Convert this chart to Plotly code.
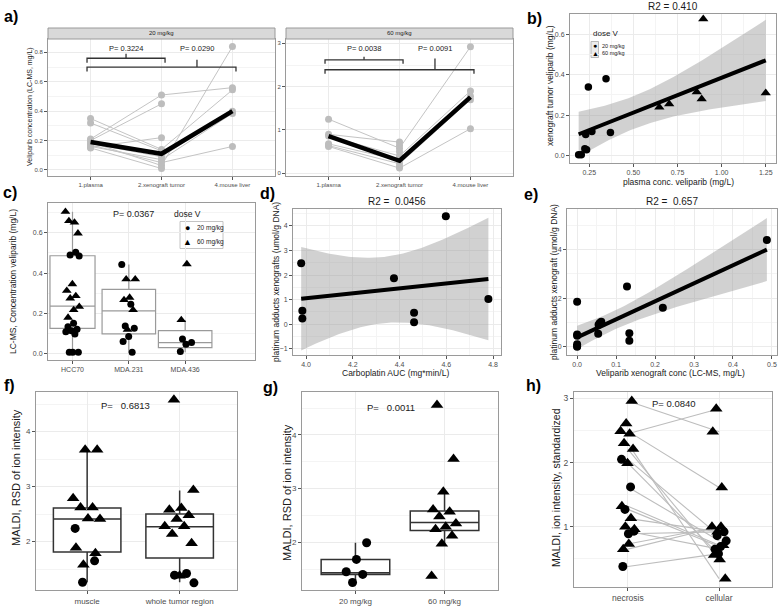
import numpy as np
import plotly.graph_objects as go

W, H = 778, 606
FONT = "Liberation Sans, Arial, sans-serif"

# ---------------- data ----------------
a_categories = ["1.plasma", "2.xenograft tumor", "4.mouse liver"]
# panel a, 20 mg/kg, one entry per mouse
a20_plasma = [0.21, 0.20, 0.32, 0.19, 0.17, 0.18, 0.16, 0.35, 0.15, 0.155]
a20_tumor = [0.51, 0.45, 0.13, 0.03, 0.05, 0.09, 0.07, 0.14, 0.01, 0.22]
a20_liver = [0.56, None, None, 0.84, 0.16, 0.40, 0.385, 0.545, None, None]
a20_mean = [0.19, 0.11, 0.40]
# panel a, 60 mg/kg
a60_plasma = [1.25, 0.90, 0.86, 0.68, 0.64, 0.62, None, None, None]
a60_tumor = [0.58, 0.72, 0.40, 0.30, 0.22, 0.12, 0.65, 0.50, 0.15]
a60_liver = [2.92, None, 1.90, 1.78, 1.70, 1.03, None, None, None]
a60_mean = [0.86, 0.29, 1.76]
a_facets = ["20 mg/kg", "60 mg/kg"]
# brackets: (from, to, y, tick x, tick top, label y, label)
a20_brackets = [(0, 1, 0.76, 0.5, 0.79, 0.825, "P= 0.3224"),
                (0, 2, 0.70, 1.5, 0.75, 0.825, "P= 0.0290")]
a60_brackets = [(0, 1, 2.62, 0.5, 2.69, 2.89, "P= 0.0038"),
                (0, 2, 2.39, 1.5, 2.65, 2.89, "P= 0.0091")]

# panel b
b_plasma20 = [0.19, 0.205, 0.225, 0.235, 0.23, 0.265, 0.245, 0.345, 0.37]
b_tumor20 = [0.005, 0.005, 0.035, 0.03, 0.105, 0.12, 0.34, 0.38, 0.115]
b_plasma60 = [0.647, 0.703, 0.859, 0.887, 0.896, 1.25]
b_tumor60 = [0.24, 0.255, 0.315, 0.28, 0.675, 0.31]

# panel c
c_categories = ["HCC70", "MDA.231", "MDA.436"]
c_vals60 = [[0.704, 0.651, 0.658, 0.597, 0.346, 0.313, 0.287, 0.275, 0.234, 0.218, 0.18],
            [0.37, 0.37, 0.279, 0.267, 0.218, 0.12],
            [0.445, 0.168]]
c_vals20 = [[0.503, 0.49, 0.485, 0.152, 0.135, 0.122, 0.115, 0.11, 0.099, 0.008, 0.008, 0.008],
            [0.443, 0.246, 0.138, 0.127, 0.086, 0.061, 0.008],
            [0.074, 0.056, 0.048, 0.012]]
c_q1 = [0.127, 0.099, 0.031]
c_med = [0.237, 0.213, 0.056]
c_q3 = [0.486, 0.320, 0.115]
c_lo = [0.008, 0.008, 0.008]
c_hi = [0.704, 0.443, 0.168]

# panel d
d_auc = [3.979, 3.984, 3.984, 4.376, 4.462, 4.462, 4.598, 4.78]
d_pt = [2.48, 0.55, 0.24, 1.87, 0.47, 0.08, 4.40, 1.03]

# panel e
e_vel = [0, 0, 0, 0, 0, 0, 0.054, 0.055, 0.058, 0.062, 0.128, 0.134, 0.134, 0.22, 0.487]
e_pt = [1.85, 0.5, 0.45, 0.1, 0.03, 0.0, 0.53, 0.9, 0.97, 1.03, 2.47, 0.55, 0.25, 1.6, 4.39]

# panel f
f_categories = ["muscle", "whole tumor region"]
f_vals60 = [[3.67, 3.67, 2.79, 2.62, 2.62, 2.41, 2.42, 1.89, 1.79, 1.58],
            [4.58, 2.94, 2.61, 2.58, 2.48, 2.41, 2.28, 2.28, 2.14, 1.97, 1.38]]
f_vals20 = [[2.24, 1.65, 1.26], [1.42, 1.39, 1.25]]
f_q1 = [1.81, 1.70]
f_med = [2.41, 2.27]
f_q3 = [2.61, 2.50]
f_lo = [1.26, 1.26]
f_hi = [3.67, 2.93]

# panel g
g_categories = ["20 mg/kg", "60 mg/kg"]
g_vals20 = [1.99, 1.68, 1.45, 1.40, 1.25]
g_vals60 = [4.56, 3.55, 2.94, 2.61, 2.57, 2.48, 2.35, 2.29, 2.24, 2.12, 1.97, 1.37]
g_q1 = [1.40, 2.22]
g_med = [1.43, 2.37]
g_q3 = [1.68, 2.58]
g_lo = [1.25, 1.97]
g_hi = [1.99, 2.91]

# panel h (one entry per mouse)
h_categories = ["necrosis", "cellular"]
h_dose = ["60"] * 13 + ["20"] * 6
h_nec = [2.96, 2.61, 2.49, 2.45, 2.30, 2.21, 1.99, 1.32, 1.13, 1.00, 0.96, 0.73, 0.65,
         2.05, 1.62, 1.27, 0.93, 0.89, 0.38]
h_cel = [2.48, None, 1.61, 2.84, 0.19, 0.49, 0.56, 0.71, 0.92, None, None, 1.00, 1.00,
         0.86, 0.78, 0.69, 0.65, 0.92, 0.58]

legend_title = "dose V"
legend_labels = ["20 mg/kg", "60 mg/kg"]

T975 = {6: 2.447, 12: 2.179, 13: 2.160, 14: 2.145}

# ---------------- helpers ----------------
def px_x(p):
    return p / W


def px_y(p):
    return 1 - p / H


def jitter(n, w, s=0.0):
    phi = 0.6180339887
    return np.array([w * ((((i + 1) * phi + s) % 1.0) * 2 - 1) for i in range(n)])


def lm_band(x, y, n_grid=80):
    x = np.asarray(x, float)
    y = np.asarray(y, float)
    n = len(x)
    mx = x.mean()
    sxx = ((x - mx) ** 2).sum()
    b1 = ((x - mx) * (y - y.mean())).sum() / sxx
    b0 = y.mean() - b1 * mx
    res = y - (b0 + b1 * x)
    s = np.sqrt((res ** 2).sum() / (n - 2))
    t = T975.get(n - 2, 2.1)
    xs = np.linspace(x.min(), x.max(), n_grid)
    fit = b0 + b1 * xs
    se = s * np.sqrt(1.0 / n + (xs - mx) ** 2 / sxx)
    return xs, fit, fit - t * se, fit + t * se


SYM = {"20": "circle", "60": "triangle-up"}
GLYPH = {"20": "\u25cf", "60": "\u25b2"}

fig = go.Figure()
layout = {}
annotations = []
shapes = []

# panel boxes in pixels: (x0, x1), (y0, y1)
PANELS = {
    1: ((48, 275), (39, 176)),
    2: ((286, 513), (39, 176)),
    3: ((570, 776), (14, 163)),
    4: ((48, 255), (203, 360)),
    5: ((293, 501), (209, 355)),
    6: ((567, 777), (209, 355)),
    7: ((36, 237), (392, 590)),
    8: ((302, 498), (392, 590)),
    9: ((574, 772), (392, 587)),
}


def suffix(k):
    return str(k) if k > 1 else ""


def base_axis(size):
    return dict(showgrid=True, gridcolor="#ebebeb", gridwidth=1, zeroline=False,
                showline=True, mirror=True, linecolor="#9a9a9a", linewidth=1,
                ticks="outside", ticklen=3, tickwidth=1, tickcolor="#555555",
                tickfont=dict(size=size, color="#4d4d4d", family=FONT),
                fixedrange=True)


def set_axes(k, xr, yr, xkw, ykw, size=7):
    (x0, x1), (y0, y1) = PANELS[k]
    xa = base_axis(size)
    ya = base_axis(size)
    xa.update(domain=[px_x(x0), px_x(x1)], range=xr, anchor="y" + suffix(k))
    ya.update(domain=[px_y(y1), px_y(y0)], range=yr, anchor="x" + suffix(k))
    xa.update(xkw)
    ya.update(ykw)
    layout["xaxis" + suffix(k)] = xa
    layout["yaxis" + suffix(k)] = ya


def num(dt, fmt=None):
    d = dict(dtick=dt, minor=dict(dtick=dt / 2, showgrid=True, gridcolor="#f4f4f4",
                                  gridwidth=0.6, ticks=""))
    if fmt:
        d["tickformat"] = fmt
    return d


def cat(labels):
    return dict(tickmode="array", tickvals=list(range(len(labels))), ticktext=labels,
                minor=dict(showgrid=False))


def ax_ids(k):
    return "x" + suffix(k), "y" + suffix(k)


def ann(text, x, y, size, **kw):
    d = dict(text=text, x=px_x(x), y=px_y(y), xref="paper", yref="paper",
             showarrow=False, font=dict(size=size, color=kw.pop("color", "#1a1a1a"),
                                        family=FONT), xanchor="center", yanchor="middle")
    d.update(kw)
    annotations.append(d)


def legend_block(tx, ty, tsize, box, kx, ky, ksize, lx, lsize, fill, border):
    ann(legend_title, tx, ty, tsize, xanchor="left")
    shapes.append(dict(type="rect", xref="paper", yref="paper",
                       x0=px_x(box[0]), x1=px_x(box[1]), y0=px_y(box[3]), y1=px_y(box[2]),
                       fillcolor=fill, line=dict(color=border, width=0.8), layer="below"))
    for dose, lab, yy in zip(["20", "60"], legend_labels, ky):
        ann(GLYPH[dose], kx, yy, ksize, color="black")
        ann(lab, lx, yy, lsize, xanchor="left")


# ---------------- panel a ----------------
for k, plasma, tumor, liver, mean, brackets, facet in [
        (1, a20_plasma, a20_tumor, a20_liver, a20_mean, a20_brackets, a_facets[0]),
        (2, a60_plasma, a60_tumor, a60_liver, a60_mean, a60_brackets, a_facets[1])]:
    xa, ya = ax_ids(k)
    for p, t, l in zip(plasma, tumor, liver):
        fig.add_trace(go.Scatter(x=[0, 1, 2], y=[p, t, l], mode="lines", connectgaps=False,
                                 line=dict(color="#c4c4c4", width=1), showlegend=False,
                                 xaxis=xa, yaxis=ya, hoverinfo="skip"))
    for ci, vals in enumerate([plasma, tumor, liver]):
        v = [q for q in vals if q is not None]
        fig.add_trace(go.Scatter(x=[ci] * len(v), y=v, mode="markers",
                                 marker=dict(color="#bdbdbd", size=7), showlegend=False,
                                 xaxis=xa, yaxis=ya))
    fig.add_trace(go.Scatter(x=[0, 1, 2], y=mean, mode="lines",
                             line=dict(color="black", width=4.5), showlegend=False,
                             xaxis=xa, yaxis=ya))
    for (b0, b1, by, tx, ttop, ly, lab) in brackets:
        drop = (0.03 if k == 1 else 0.09)
        fig.add_trace(go.Scatter(x=[b0 - 0.05, b0 - 0.05, b1 + 0.05, b1 + 0.05],
                                 y=[by - drop, by, by, by - drop], mode="lines",
                                 line=dict(color="#333333", width=1.3), showlegend=False,
                                 xaxis=xa, yaxis=ya))
        fig.add_trace(go.Scatter(x=[tx, tx], y=[by, ttop], mode="lines",
                                 line=dict(color="#333333", width=1.3), showlegend=False,
                                 xaxis=xa, yaxis=ya))
        annotations.append(dict(text=lab, x=tx, y=ly, xref=xa, yref=ya, showarrow=False,
                                font=dict(size=7.5, color="#1a1a1a", family=FONT)))
    (x0, x1), (y0, y1) = PANELS[k]
    shapes.append(dict(type="rect", xref="paper", yref="paper", x0=px_x(x0), x1=px_x(x1),
                       y0=px_y(39), y1=px_y(28), fillcolor="#d9d9d9",
                       line=dict(color="#9a9a9a", width=1), layer="above"))
    ann(facet, (x0 + x1) / 2, 33.5, 6)

set_axes(1, [-0.6, 2.6], [-0.041, 0.891], cat(a_categories), num(0.2, ".1f"), size=6)
set_axes(2, [-0.6, 2.6], [-0.062, 3.10], cat(a_categories), num(1), size=6)
ann("Veliparib concentration (LC-MS, mg/L)", 30, 107, 7, textangle=-90)
ann("<b>a)</b>", 11, 17, 16, color="black")

# ---------------- panel b ----------------
xs, fit, lo, hi = lm_band(b_plasma20 + b_plasma60, b_tumor20 + b_tumor60)
fig.add_trace(go.Scatter(x=np.concatenate([xs, xs[::-1]]), y=np.concatenate([hi, lo[::-1]]),
                         fill="toself", fillcolor="rgba(153,153,153,0.45)",
                         line=dict(width=0), mode="lines", showlegend=False,
                         xaxis="x3", yaxis="y3", hoverinfo="skip"))
fig.add_trace(go.Scatter(x=xs, y=fit, mode="lines", line=dict(color="black", width=4),
                         showlegend=False, xaxis="x3", yaxis="y3"))
fig.add_trace(go.Scatter(x=b_plasma20, y=b_tumor20, mode="markers",
                         marker=dict(symbol="circle", size=7.5, color="black"),
                         showlegend=False, xaxis="x3", yaxis="y3"))
fig.add_trace(go.Scatter(x=b_plasma60, y=b_tumor60, mode="markers",
                         marker=dict(symbol="triangle-up", size=9, color="black"),
                         showlegend=False, xaxis="x3", yaxis="y3"))
set_axes(3, [0.141, 1.308], [-0.036, 0.70], num(0.25, ".2f"), num(0.2, ".1f"))
legend_block(591, 33, 8, (591, 598.5, 41.5, 57.5), 595, [45.7, 53.3], 7, 600, 5.5,
             "#ececec", "#aaaaaa")
ann("R2 = 0.410", 673, 6, 10)
ann("plasma conc. veliparib (mg/L)", 678, 182, 8.5)
ann("xenograft tumor veliparib (mg/L)", 550, 86, 8.5, textangle=-90)
ann("<b>b)</b>", 534, 18, 16, color="black")

# ---------------- panel c ----------------
c_widths = [0.8, 0.95, 0.95]
for i in range(3):
    fig.add_trace(go.Box(x=[i], q1=[c_q1[i]], median=[c_med[i]], q3=[c_q3[i]],
                         lowerfence=[c_lo[i]], upperfence=[c_hi[i]], width=c_widths[i],
                         fillcolor="white", line=dict(color="#9a9a9a", width=1.2),
                         whiskerwidth=0, boxpoints=False, showlegend=False,
                         xaxis="x4", yaxis="y4"))
for i in range(3):
    for dose, vals, sz, s in [("20", c_vals20[i], 7, 0.1), ("60", c_vals60[i], 8.5, 0.4)]:
        jx = i + jitter(len(vals), 0.13, s + i * 0.3)
        fig.add_trace(go.Scatter(x=jx, y=vals, mode="markers",
                                 marker=dict(symbol=SYM[dose], size=sz, color="black"),
                                 showlegend=False, xaxis="x4", yaxis="y4"))
set_axes(4, [-0.435, 3.24], [-0.03, 0.747], cat(c_categories), num(0.2, ".1f"))
legend_block(172, 214, 8.5, (180, 223, 221.5, 248.5), 187.5, [228, 241.5], 9, 195, 6.5,
             "white", "#b5b5b5")
ann("P= 0.0367", 133, 214, 9)
ann("LC-MS, Concentration veliparib (mg/L)", 13, 282, 8.5, textangle=-90)
ann("<b>c)</b>", 10, 192, 16, color="black")

# ---------------- panel d ----------------
xs, fit, lo, hi = lm_band(d_auc, d_pt)
fig.add_trace(go.Scatter(x=np.concatenate([xs, xs[::-1]]), y=np.concatenate([hi, lo[::-1]]),
                         fill="toself", fillcolor="rgba(153,153,153,0.45)",
                         line=dict(width=0), mode="lines", showlegend=False,
                         xaxis="x5", yaxis="y5", hoverinfo="skip"))
fig.add_trace(go.Scatter(x=xs, y=fit, mode="lines", line=dict(color="black", width=4),
                         showlegend=False, xaxis="x5", yaxis="y5"))
fig.add_trace(go.Scatter(x=d_auc, y=d_pt, mode="markers",
                         marker=dict(symbol="circle", size=8, color="black"),
                         showlegend=False, xaxis="x5", yaxis="y5"))
set_axes(5, [3.944, 4.834], [-1.25, 4.69], num(0.2, ".1f"), num(1))
ann("R2 =\u00a0\u00a00.0456", 397, 201, 10)
ann("Carboplatin AUC (mg*min/L)", 395, 373, 8.5)
ann("platinum adducts xenografts (umol/g DNA)", 276, 282, 8.5, textangle=-90)
ann("<b>d)</b>", 267, 193, 16, color="black")

# ---------------- panel e ----------------
xs, fit, lo, hi = lm_band(e_vel, e_pt)
fig.add_trace(go.Scatter(x=np.concatenate([xs, xs[::-1]]), y=np.concatenate([hi, lo[::-1]]),
                         fill="toself", fillcolor="rgba(153,153,153,0.45)",
                         line=dict(width=0), mode="lines", showlegend=False,
                         xaxis="x6", yaxis="y6", hoverinfo="skip"))
fig.add_trace(go.Scatter(x=xs, y=fit, mode="lines", line=dict(color="black", width=4),
                         showlegend=False, xaxis="x6", yaxis="y6"))
fig.add_trace(go.Scatter(x=e_vel, y=e_pt, mode="markers",
                         marker=dict(symbol="circle", size=8, color="black"),
                         showlegend=False, xaxis="x6", yaxis="y6"))
set_axes(6, [-0.026, 0.513], [-0.34, 5.66], num(0.1, ".1f"), num(2))
ann("R2 =\u00a0\u00a00.657", 672, 201, 10)
ann("Veliparib xenograft conc (LC-MS, mg/L)", 670, 373, 8.5)
ann("platinum adducts xenograft (umol/g DNA)", 554, 282, 8.5, textangle=-90)
ann("<b>e)</b>", 531, 194, 16, color="black")

# ---------------- panel f / g ----------------
def box_panel(k, q1, med, q3, lo_, hi_, width, groups, jw):
    xa, ya = ax_ids(k)
    for i in range(len(q1)):
        fig.add_trace(go.Box(x=[i], q1=[q1[i]], median=[med[i]], q3=[q3[i]],
                             lowerfence=[lo_[i]], upperfence=[hi_[i]], width=width,
                             fillcolor="white", line=dict(color="#333333", width=1.5),
                             whiskerwidth=0, boxpoints=False, showlegend=False,
                             xaxis=xa, yaxis=ya))
    for (i, dose, vals, s) in groups:
        jx = i + jitter(len(vals), jw, s)
        fig.add_trace(go.Scatter(x=jx, y=vals, mode="markers",
                                 marker=dict(symbol=SYM[dose],
                                             size=(9 if dose == "20" else 11),
                                             color="black"),
                                 showlegend=False, xaxis=xa, yaxis=ya))


box_panel(7, f_q1, f_med, f_q3, f_lo, f_hi, 0.73,
          [(0, "60", f_vals60[0], 0.2), (0, "20", f_vals20[0], 0.5),
           (1, "60", f_vals60[1], 0.7), (1, "20", f_vals20[1], 0.1)], 0.17)
set_axes(7, [-0.553, 1.62], [1.12, 4.72], cat(f_categories), num(1), size=8)
ann("P=\u00a0\u00a0\u00a00.6813", 126, 405, 9.5)
ann("MALDI, RSD of ion intensity", 16, 478, 11, textangle=-90)
ann("<b>f)</b>", 9, 385, 16, color="black")

box_panel(8, g_q1, g_med, g_q3, g_lo, g_hi, 0.77,
          [(0, "20", g_vals20, 0.3), (1, "60", g_vals60, 0.6)], 0.15)
set_axes(8, [-0.60, 1.60], [1.11, 4.80], cat(g_categories), num(1), size=8)
ann("P=\u00a0\u00a0\u00a00.0011", 391, 407, 9.5)
ann("MALDI, RSD of ion intensity", 287, 493, 11, textangle=-90)
ann("<b>g)</b>", 270, 387, 16, color="black")

# ---------------- panel h ----------------
for n_, c_ in zip(h_nec, h_cel):
    if n_ is not None and c_ is not None:
        fig.add_trace(go.Scatter(x=[0, 1], y=[n_, c_], mode="lines",
                                 line=dict(color="#bdbdbd", width=1.1), showlegend=False,
                                 xaxis="x9", yaxis="y9", hoverinfo="skip"))
for ci, vals, s in [(0, h_nec, 0.15), (1, h_cel, 0.45)]:
    for dose in ["20", "60"]:
        v = [q for q, d in zip(vals, h_dose) if d == dose and q is not None]
        jx = ci + jitter(len(v), 0.08, s + (0.3 if dose == "20" else 0.0))
        fig.add_trace(go.Scatter(x=jx, y=v, mode="markers",
                                 marker=dict(symbol=SYM[dose],
                                             size=(9 if dose == "20" else 11),
                                             color="black"),
                                 showlegend=False, xaxis="x9", yaxis="y9"))
set_axes(9, [-0.59, 1.58], [0.06, 3.10], cat(h_categories), num(1), size=8.5)
ann("P= 0.0840", 674, 403, 9.5)
ann("MALDI, ion intensity, standardized", 556, 488, 10.5, textangle=-90)
ann("<b>h)</b>", 533, 385, 16, color="black")

# ---------------- layout ----------------
layout.update(
    width=W, height=H, margin=dict(l=0, r=0, t=0, b=0),
    paper_bgcolor="white", plot_bgcolor="white",
    font=dict(family=FONT, color="#1a1a1a"),
    annotations=annotations, shapes=shapes, showlegend=False,
)
fig.update_layout(**layout)
fig.write_html("out.html", config={"displayModeBar": False},
               post_script="document.body.style.margin='0';document.body.style.overflow='hidden';")
